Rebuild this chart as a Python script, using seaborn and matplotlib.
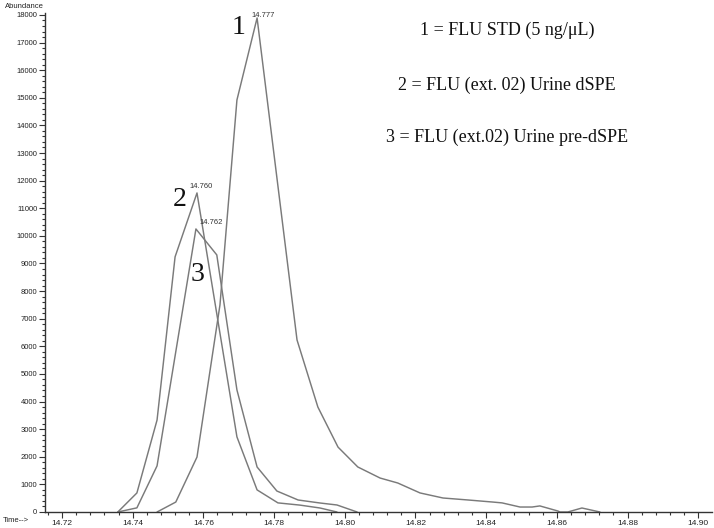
import pandas as pd
import matplotlib
matplotlib.use('Agg')
import matplotlib.pyplot as plt
from matplotlib.ticker import MultipleLocator
import seaborn as sns

# retention time (min) and abundance
t1 = [14.7469, 14.7522, 14.7582, 14.7647, 14.7695, 14.7752, 14.7865, 14.7924, 14.7981,
      14.8037, 14.8100, 14.8150, 14.8213, 14.8278, 14.8349, 14.8419, 14.8445, 14.8496,
      14.8530, 14.8552, 14.8603, 14.8609, 14.8631, 14.8671, 14.8722]
a1 = [0, 360, 1990, 7500, 14920, 17890, 6230, 3800, 2350,
      1630, 1230, 1050, 690, 507, 435, 360, 330, 180,
      180, 220, 36, 0, 0, 145, 0]

t2 = [14.7358, 14.7412, 14.7469, 14.7520, 14.7582, 14.7695, 14.7752, 14.7811, 14.7873,
      14.7930, 14.7978]
a2 = [0, 690, 3330, 9240, 11554, 2720, 800, 330, 250, 145, 0]

t3 = [14.7358, 14.7412, 14.7469, 14.7579, 14.7638, 14.7695, 14.7752, 14.7808, 14.7868,
      14.7930, 14.7978, 14.8035]
a3 = [0, 150, 1670, 10250, 9310, 4420, 1630, 760, 435, 326, 254, 0]

peak_labels = ['14.777', '14.760', '14.762']
legend_lines = ['1 = FLU STD (5 ng/\u03bcL)',
                '2 = FLU (ext. 02) Urine dSPE',
                '3 = FLU (ext.02) Urine pre-dSPE']

df = pd.concat([
    pd.DataFrame({'time': t1, 'abundance': a1, 'run': '1'}),
    pd.DataFrame({'time': t2, 'abundance': a2, 'run': '2'}),
    pd.DataFrame({'time': t3, 'abundance': a3, 'run': '3'}),
])

sns.set_style('ticks')
plt.rcParams['font.family'] = ['Liberation Sans', 'DejaVu Sans']

W, H = 714, 528
fig = plt.figure(figsize=(W / 100, H / 100), dpi=100)
ax = fig.add_axes([45 / W, 16 / H, (712 - 45) / W, (512 - 13) / H])

sns.lineplot(data=df, x='time', y='abundance', hue='run', units='run', estimator=None,
             sort=False, palette=['#7a7a7a'] * 3, linewidth=1.05, legend=False, ax=ax)

ax.set_xlim(14.7152, 14.9039)
ax.set_ylim(0, 18070)
ax.set_xlabel('')
ax.set_ylabel('')
sns.despine(ax=ax)
for s in ['left', 'bottom']:
    ax.spines[s].set_color('#333333')
    ax.spines[s].set_linewidth(1.0)

ax.xaxis.set_major_locator(MultipleLocator(0.02))
ax.xaxis.set_minor_locator(MultipleLocator(0.004))
ax.yaxis.set_major_locator(MultipleLocator(1000))
ax.yaxis.set_minor_locator(MultipleLocator(200))
ax.xaxis.set_major_formatter(plt.FuncFormatter(lambda v, p: f'{v:.2f}'))
ax.tick_params(axis='both', which='major', length=4, width=0.8, color='#333333',
               labelsize=6, labelcolor='#222222', pad=1.5)
ax.tick_params(axis='both', which='minor', length=2, width=0.8, color='#333333')
ax.tick_params(axis='y', labelsize=5.5)

# peak retention-time labels and run numbers
peaks = [(t1, a1), (t2, a2), (t3, a3)]
num_off = [(-19, -10), (-17, -7), (2, -46)]
lab_off = [(6, 2), (4, 6), (15, 6)]
for i, (t, a) in enumerate(peaks):
    k = a.index(max(a))
    ax.annotate(peak_labels[i], (t[k], a[k]), xytext=lab_off[i], textcoords='offset pixels',
                ha='center', va='center', fontsize=5.5, color='#333333')
    ax.annotate(str(i + 1), (t[k], a[k]), xytext=num_off[i], textcoords='offset pixels',
                ha='center', va='center', fontsize=20, family=['Liberation Serif'],
                color='#111111')

fig.text(5 / W, 1 - 6 / H, 'Abundance', fontsize=5.5, va='center', ha='left', color='#222222')
fig.text(3 / W, 1 - 521 / H, 'Time-->', fontsize=5.5, va='center', ha='left', color='#222222')

for y, line in zip([30, 85, 137], legend_lines):
    fig.text(507 / W, 1 - y / H, line, fontsize=13, ha='center', va='center',
             family=['Liberation Serif'], color='#111111')

fig.savefig('out.png', dpi=100)
